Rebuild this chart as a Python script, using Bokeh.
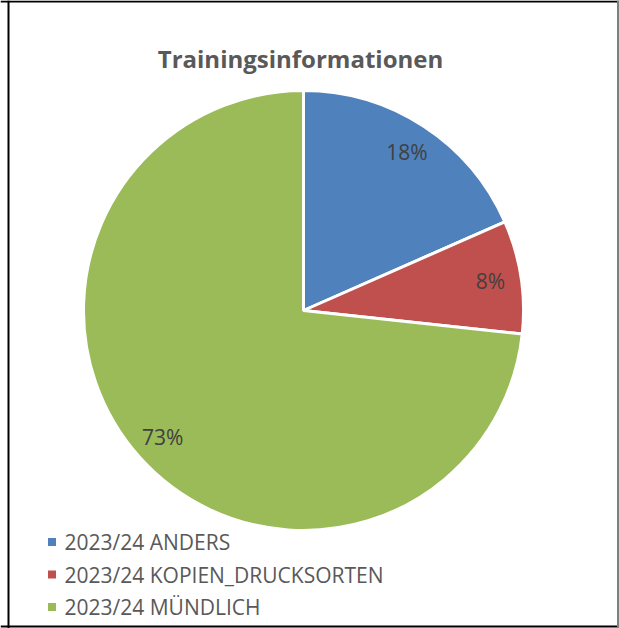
import math
from bokeh.plotting import figure
from bokeh.models import Range1d, ColumnDataSource, Span
from bokeh.core.properties import value
from bokeh.embed import file_html
from bokeh.resources import INLINE

title = "Trainingsinformationen"
categories = ["2023/24 ANDERS", "2023/24 KOPIEN_DRUCKSORTEN", "2023/24 MÜNDLICH"]
shares = [18.4, 8.3, 73.3]
colors = ["#4F81BD", "#C0504D", "#9BBB59"]

W, H = 619, 628
p = figure(width=W, height=H, output_backend="svg", toolbar_location=None,
           x_range=Range1d(0, W), y_range=Range1d(0, H), min_border=0)
p.axis.visible = False
p.grid.visible = False
p.outline_line_color = None
p.background_fill_color = "white"
p.border_fill_color = "white"

def Y(page_y):
    return H - page_y
def X(page_x):
    return page_x

# frame
p.add_layout(Span(location=X(8), dimension="height", line_color="black", line_width=2))
p.add_layout(Span(location=Y(1), dimension="width", line_color="black", line_width=2))
p.add_layout(Span(location=Y(626), dimension="width", line_color="black", line_width=2))
p.add_layout(Span(location=X(617.5), dimension="height", line_color="#7f7f7f", line_width=2))

cx, cy, r = X(303), Y(310), 220
total = sum(shares)
starts, ends, lx, ly, labels = [], [], [], [], []
acc = 0.0
for v in shares:
    a0 = math.pi / 2 - 2 * math.pi * acc / total
    acc += v
    a1 = math.pi / 2 - 2 * math.pi * acc / total
    starts.append(a1)
    ends.append(a0)
    mid = (a0 + a1) / 2
    lx.append(cx + 0.86 * r * math.cos(mid))
    ly.append(cy + 0.86 * r * math.sin(mid))
    labels.append(f"{round(v / total * 100)}%")

src = ColumnDataSource(dict(start=starts, end=ends, color=colors, lx=lx, ly=ly, label=labels))
p.wedge(x=cx, y=cy, radius=r, start_angle="start", end_angle="end", fill_color="color",
        line_color="white", line_width=3, source=src)
p.text(x="lx", y="ly", text="label", source=src, text_align="center", text_baseline="middle",
       text_font=value("Open Sans"), text_font_size="21px", text_color="#404040")

p.text(x=[X(300)], y=[Y(58)], text=[title], text_align="center", text_baseline="alphabetic",
       text_font=value("Open Sans"), text_font_style="bold", text_font_size="24px",
       text_color="#595959")

leg = ColumnDataSource(dict(
    mx=[X(51.5)] * len(categories),
    tx=[X(64)] * len(categories),
    y=[Y(541.5 + 32.5 * i) for i in range(len(categories))],
    name=categories, color=colors))
p.scatter(x="mx", y="y", marker="square", size=8, fill_color="color", line_color=None, source=leg)
p.text(x="tx", y="y", text="name", source=leg, text_align="left", text_baseline="middle",
       text_font=value("Open Sans"), text_font_size="21px", text_color="#595959")

open("out.html", "w").write(file_html(p, INLINE))
